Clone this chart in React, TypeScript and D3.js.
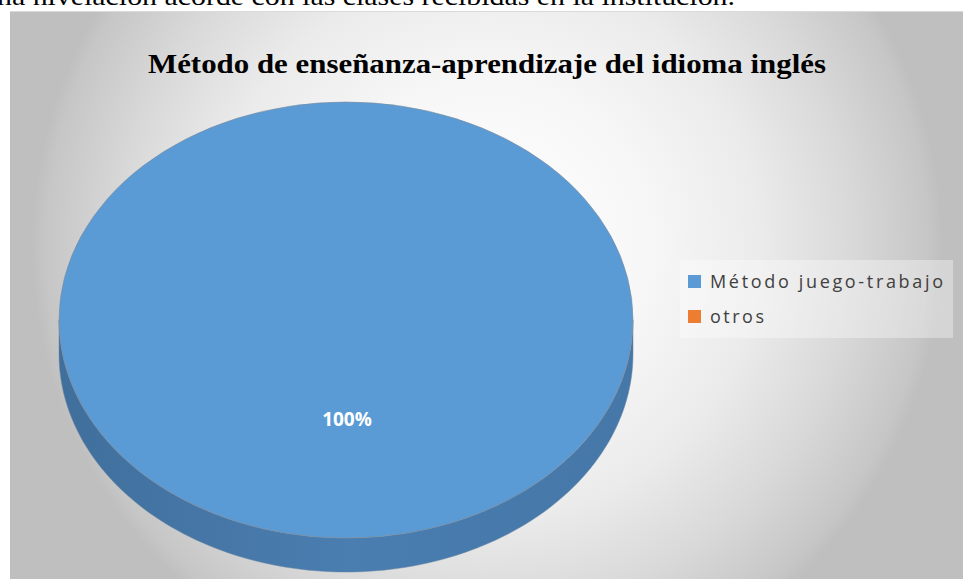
import React from "react";
import * as d3 from "d3";

const categories = ["Método juego-trabajo", "otros"];
const values = [100, 0];
const colors = ["#5B9BD5", "#ED7D31"];
const sideColors = ["#4A7DB0", "#B85F22"];
const title = "Método de enseñanza-aprendizaje del idioma inglés";
const topLine = "na nivelación acorde con las clases recibidas en la institución.";

export default function App() {
  const W = 963, H = 579;
  const cx = 346, cy = 320, rx = 287, ry = 218, depth = 34;
  const total = d3.sum(values);
  const pieGen = d3.pie<number>().sort(null).value((d) => d);
  const arcs = pieGen(values);
  const pt = (a: number, dy = 0): [number, number] => [cx + rx * Math.sin(a), cy - ry * Math.cos(a) + dy];

  const topPath = (s: number, e: number) => {
    if (e - s >= 2 * Math.PI - 1e-6) {
      return `M${cx - rx},${cy} A${rx},${ry} 0 1,0 ${cx + rx},${cy} A${rx},${ry} 0 1,0 ${cx - rx},${cy} Z`;
    }
    const n = 120;
    const pts = d3.range(n + 1).map((i) => pt(s + ((e - s) * i) / n));
    return `M${cx},${cy} L` + pts.map((p) => p.join(",")).join(" L") + " Z";
  };

  const sidePath = (s: number, e: number) => {
    const a0 = Math.max(s, Math.PI / 2);
    const a1 = Math.min(e, (3 * Math.PI) / 2);
    if (a1 <= a0) return null;
    const n = 120;
    const top = d3.range(n + 1).map((i) => pt(a0 + ((a1 - a0) * i) / n));
    const bot = d3.range(n + 1).map((i) => pt(a1 - ((a1 - a0) * i) / n, depth));
    return "M" + top.map((p) => p.join(",")).join(" L") + " L" + bot.map((p) => p.join(",")).join(" L") + " Z";
  };

  const big = arcs.reduce((m, a) => (a.value > m.value ? a : m), arcs[0]);

  return (
    <svg width={W} height={H} style={{ position: "absolute", left: 0, top: 0 }}>
      <defs>
        <radialGradient id="bg" gradientUnits="userSpaceOnUse" cx={487} cy={245} r={455}>
          <stop offset="0" stopColor="#ffffff" />
          <stop offset="0.35" stopColor="#f7f7f7" />
          <stop offset="0.6" stopColor="#ebebeb" />
          <stop offset="0.8" stopColor="#d9d9d9" />
          <stop offset="0.97" stopColor="#c6c6c6" />
          <stop offset="1" stopColor="#bfbfbf" />
        </radialGradient>
        <linearGradient id="side" x1="0" x2="1" y1="0" y2="0">
          <stop offset="0" stopColor="#406f9c" />
          <stop offset="0.5" stopColor="#4a7db0" />
          <stop offset="1" stopColor="#4577a8" />
        </linearGradient>
      </defs>
      <rect x={0} y={0} width={W} height={H} fill="#ffffff" />
      <text x={-3} y={5} fontFamily="'Liberation Serif', 'Times New Roman', serif" fontSize={26} fill="#000" textLength={738} lengthAdjust="spacingAndGlyphs">
        {topLine}
      </text>
      <rect x={10} y={11} width={W - 10} height={H - 11} fill="url(#bg)" />
      <line x1={10} x2={W} y1={11.5} y2={11.5} stroke="#d9d9d9" />
      <text x={487} y={73} textAnchor="middle" fontFamily="'Liberation Serif', 'Times New Roman', serif" fontWeight="bold" fontSize={28} fill="#000" textLength={678} lengthAdjust="spacingAndGlyphs">
        {title}
      </text>
      {arcs.map((a, i) => {
        if (a.endAngle - a.startAngle <= 0) return null;
        const d = sidePath(a.startAngle, a.endAngle);
        return d ? <path key={"s" + i} d={d} fill={i === 0 ? "url(#side)" : sideColors[i]} stroke="#6b86a0" strokeWidth={0.5} /> : null;
      })}
      {arcs.map((a, i) => {
        if (a.endAngle - a.startAngle <= 0) return null;
        return <path key={"t" + i} d={topPath(a.startAngle, a.endAngle)} fill={colors[i]} stroke="#7f8c99" strokeWidth={0.6} />;
      })}
      <text x={cx + 1} y={426} textAnchor="middle" fontFamily="'Open Sans', 'Liberation Sans', sans-serif" fontWeight="bold" fontSize={19} fill="#ffffff">
        {d3.format(".0%")(big.value / total)}
      </text>
      <rect x={680} y={260} width={273} height={78} fill="#ffffff" fillOpacity={0.35} />
      {categories.map((c, i) => (
        <g key={c} transform={`translate(688, ${275 + i * 35})`}>
          <rect x={0} y={0} width={13} height={13} fill={colors[i]} />
          <text x={22} y={13} fontFamily="'Open Sans', 'Liberation Sans', sans-serif" fontSize={18} fill="#404040" textLength={i === 0 ? 233 : 54} lengthAdjust="spacing">
            {c}
          </text>
        </g>
      ))}
    </svg>
  );
}
